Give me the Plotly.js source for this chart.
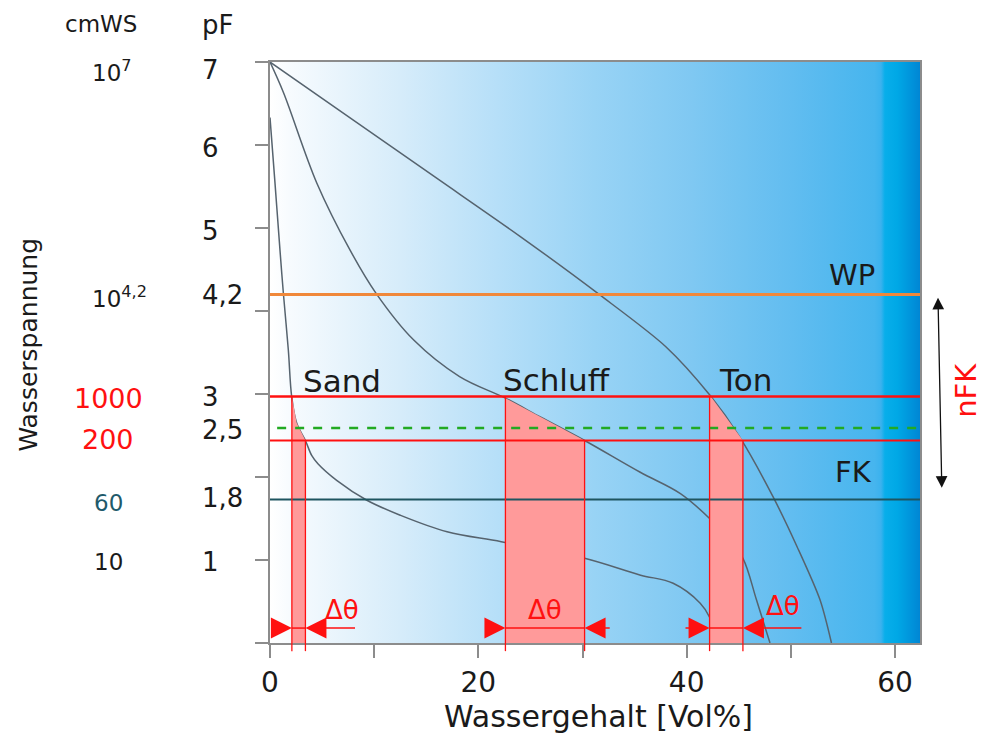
<!DOCTYPE html>
<html>
<head>
<meta charset="utf-8">
<script src="https://cdn.plot.ly/plotly-3.0.1.min.js"></script>
<style>html,body{margin:0;padding:0;background:#fff;}</style>
</head>
<body>
<div id="chart" style="width:985px;height:738px;"></div>
<script>
// ---- data (Vol% vs pF) ----
const sandX   = [0, 0.48, 0.96, 1.28, 1.76, 2.08, 2.56, 3.4, 4.0, 4.6, 6.4, 9.3, 12.5, 17.0, 22.2, 30.2, 35.5, 38.7, 41.3, 42.2, 42.6];
const sandPF  = [6.33, 5.54, 4.73, 4.22, 3.53, 2.97, 2.65, 2.44, 2.26, 2.16, 1.96, 1.72, 1.54, 1.34, 1.22, 1.02, 0.82, 0.72, 0.48, 0.31, 0.1];
const schluffX  = [0, 1.3, 4.5, 7.7, 10.2, 13.8, 18.2, 22.6, 26.0, 30.2, 35.5, 39.4, 42.2, 44.0, 45.4, 46.7, 48.0];
const schluffPF = [7, 6.63, 5.54, 4.73, 4.21, 3.65, 3.21, 2.95, 2.72, 2.44, 2.06, 1.80, 1.50, 1.25, 1.02, 0.52, 0];
const tonX  = [0, 8, 16, 24, 31.6, 38.0, 42.2, 45.1, 48.3, 50.6, 52.8, 53.9];
const tonPF = [7, 6.3, 5.6, 4.9, 4.2, 3.57, 2.99, 2.48, 1.76, 1.16, 0.52, 0];

// shaded usable-water areas (between pF 3 and pF 2.44)
const sandFillX  = [2.1, 2.1, 2.56, 3.4, 3.4];
const sandFillPF = [0, 2.97, 2.65, 2.44, 0];
const schluffFillX  = [22.6, 22.6, 30.2, 30.2];
const schluffFillPF = [0, 2.95, 2.44, 0];
const tonFillX  = [42.2, 42.2, 45.4, 45.4];
const tonFillPF = [0, 2.99, 2.44, 0];

const soilNames = ['Sand', 'Schluff', 'Ton'];
const boxLeftX  = [2.1, 22.6, 42.2];
const boxRightX = [3.4, 30.2, 45.4];
const arrowLeftTail  = [0, 20.6, 39.6];
const arrowRightTail = [8.45, 32.9, 51.3];
const arrowPF = 0.18;

// reference levels (pF)
const levelWP = 4.2;
const levelUpper = 2.97;   // 1000 cmWS
const levelMid = 2.59;     // dashed
const levelLower = 2.44;   // 200 cmWS
const levelFK = 1.73;

// tick labels
const xTickVals = [0, 10, 20, 30, 40, 50, 60];
const xTickText = ['0', '', '20', '', '40', '', '60'];
const yTickVals = [0, 1, 2, 3, 4, 5, 6, 7];
const pfLabels = ['7', '6', '5', '4,2', '3', '2,5', '1,8', '1'];
const pfLabelPos = [6.9, 5.96, 4.96, 4.19, 2.96, 2.57, 1.75, 0.98];
const cmwsLabels = ['10<sup>7</sup>', '10<sup>4,2</sup>', '1000', '200', '60', '10'];
const cmwsLabelPos = [6.89, 4.17, 2.94, 2.45, 1.69, 0.98];
const cmwsColors = ['#1a1a1a', '#1a1a1a', '#ff1010', '#ff1010', '#1f5a6b', '#1a1a1a'];

const FONT = '"DejaVu Sans", sans-serif';
const RED = '#ff1010';
const CURVE = '#56636e';
const FILL = '#ff9a9a';
const X_MAX = 62.4, Y_MAX = 7;

// background gradient image
const stops = [
  [0, '#ffffff'], [0.03, '#f7fbfe'], [0.2, '#d6ecfa'], [0.35, '#b6dff8'], [0.5, '#98d3f5'],
  [0.65, '#7fc8f2'], [0.8, '#62bdf0'], [0.93, '#46b5ee'], [0.94, '#3bb2ee'], [0.946, '#08aeea'],
  [0.965, '#00a8e6'], [1, '#0086d4']
];
let svg = "<svg xmlns='http://www.w3.org/2000/svg' width='200' height='20' viewBox='0 0 200 20' preserveAspectRatio='none'><defs><linearGradient id='g' x1='0' x2='1' y1='0' y2='0'>";
stops.forEach(s => { svg += "<stop offset='" + s[0] + "' stop-color='" + s[1] + "'/>"; });
svg += "</linearGradient></defs><rect x='0' y='0' width='200' height='20' fill='url(#g)'/></svg>";
const bgSrc = 'data:image/svg+xml;charset=utf-8,' + encodeURIComponent(svg);

const traces = [
  {x: sandX, y: sandPF, mode: 'lines', line: {color: CURVE, width: 1.5, shape: 'spline', smoothing: 1}, hoverinfo: 'skip'},
  {x: schluffX, y: schluffPF, mode: 'lines', line: {color: CURVE, width: 1.5, shape: 'spline', smoothing: 1}, hoverinfo: 'skip'},
  {x: tonX, y: tonPF, mode: 'lines', line: {color: CURVE, width: 1.5, shape: 'spline', smoothing: 0.8}, hoverinfo: 'skip'},
  {x: sandFillX, y: sandFillPF, mode: 'lines', fill: 'toself', fillcolor: FILL, line: {width: 0}, hoverinfo: 'skip'},
  {x: schluffFillX, y: schluffFillPF, mode: 'lines', fill: 'toself', fillcolor: FILL, line: {width: 0}, hoverinfo: 'skip'},
  {x: tonFillX, y: tonFillPF, mode: 'lines', fill: 'toself', fillcolor: FILL, line: {width: 0}, hoverinfo: 'skip'}
];

const shapes = [
  {type: 'line', xref: 'paper', x0: 0, x1: 1, yref: 'y', y0: levelWP, y1: levelWP, line: {color: '#f0883a', width: 3}, layer: 'above'},
  {type: 'line', xref: 'paper', x0: 0.011, x1: 1, yref: 'y', y0: levelMid, y1: levelMid, line: {color: '#22aa22', width: 2.5, dash: 'dash'}, layer: 'above'},
  {type: 'line', xref: 'paper', x0: 0, x1: 1, yref: 'y', y0: levelUpper, y1: levelUpper, line: {color: RED, width: 2.5}, layer: 'above'},
  {type: 'line', xref: 'paper', x0: 0, x1: 1, yref: 'y', y0: levelLower, y1: levelLower, line: {color: RED, width: 2}, layer: 'above'},
  {type: 'line', xref: 'paper', x0: 0, x1: 1, yref: 'y', y0: levelFK, y1: levelFK, line: {color: '#1e5560', width: 2}, layer: 'above'}
];
for (let i = 0; i < soilNames.length; i++) {
  shapes.push({type: 'line', xref: 'x', x0: boxLeftX[i], x1: boxLeftX[i], yref: 'paper', y0: -0.014, y1: levelUpper / Y_MAX, line: {color: RED, width: 1.3}, layer: 'above'});
  shapes.push({type: 'line', xref: 'x', x0: boxRightX[i], x1: boxRightX[i], yref: 'paper', y0: -0.014, y1: levelLower / Y_MAX, line: {color: RED, width: 1.3}, layer: 'above'});
  // Δθ dimension line across the box
  shapes.push({type: 'line', xref: 'x', x0: boxLeftX[i], x1: boxRightX[i], yref: 'y', y0: arrowPF, y1: arrowPF, line: {color: RED, width: 1.5}, layer: 'above'});
}

const ann = [];
function txt(text, x, y, opt) {
  ann.push(Object.assign({text: text, x: x, y: y, xref: 'x', yref: 'y', showarrow: false,
    font: {family: FONT, size: 29, color: '#1a1a1a'}, xanchor: 'center', yanchor: 'middle'}, opt || {}));
}
// soil labels
const soilLabelX = [6.9, 27.5, 45.6];
const soilLabelY = [3.16, 3.17, 3.17];
soilNames.forEach((n, i) => txt(n, soilLabelX[i], soilLabelY[i], {font: {family: FONT, size: 31, color: '#1a1a1a'}}));
txt('WP', 55.9, 4.43, {font: {family: FONT, size: 29, color: '#1a1a1a'}});
txt('FK', 56.0, 2.06, {font: {family: FONT, size: 29, color: '#1a1a1a'}});
// delta theta labels
const dThetaX = [6.9, 26.4, 49.2];
const dThetaY = [0.40, 0.40, 0.45];
dThetaX.forEach((x, i) => txt('Δθ', x, dThetaY[i], {font: {family: FONT, size: 26, color: RED}}));
// bottom arrows
for (let i = 0; i < soilNames.length; i++) {
  ann.push({x: boxLeftX[i], y: arrowPF, xref: 'x', yref: 'y', ax: arrowLeftTail[i], ay: arrowPF, axref: 'x', ayref: 'y',
    text: ' ', showarrow: true, arrowhead: 2, arrowsize: 2.8, arrowwidth: 1.5, arrowcolor: RED, standoff: 0});
  ann.push({x: boxRightX[i], y: arrowPF, xref: 'x', yref: 'y', ax: arrowRightTail[i], ay: arrowPF, axref: 'x', ayref: 'y',
    text: ' ', showarrow: true, arrowhead: 2, arrowsize: 2.8, arrowwidth: 1.5, arrowcolor: RED, standoff: 0});
}
// nFK arrow + label
ann.push({x: 1.0277, y: 4.16, xref: 'paper', yref: 'y', ax: 4, ay: levelFK + 0.02, axref: 'pixel', ayref: 'y',
  text: ' ', showarrow: true, arrowhead: 2, arrowside: 'end+start', arrowsize: 1.8, arrowwidth: 1.3, arrowcolor: '#111', standoff: 0, startstandoff: 0});
ann.push({text: 'nFK', x: 1.071, y: 3.04, xref: 'paper', yref: 'y', showarrow: false, textangle: -90,
  font: {family: FONT, size: 29, color: RED}, xanchor: 'center', yanchor: 'middle'});
// left label columns
ann.push({text: 'cmWS', x: -0.26, y: 1.066, xref: 'paper', yref: 'paper', showarrow: false, font: {family: FONT, size: 23, color: '#1a1a1a'}, xanchor: 'center', yanchor: 'middle'});
ann.push({text: 'pF', x: -0.107, y: 1.064, xref: 'paper', yref: 'paper', showarrow: false, font: {family: FONT, size: 26, color: '#1a1a1a'}, xanchor: 'left', yanchor: 'middle'});
pfLabels.forEach((t, i) => ann.push({text: t, x: -0.107, y: pfLabelPos[i], xref: 'paper', yref: 'y', showarrow: false,
  font: {family: FONT, size: 26, color: '#1a1a1a'}, xanchor: 'left', yanchor: 'middle'}));
cmwsLabels.forEach((t, i) => {
  const big = (t === '1000' || t === '200');
  const sup = t.indexOf('<sup>') >= 0;
  ann.push({text: t, x: sup ? -0.277 : -0.249, y: cmwsLabelPos[i], xref: 'paper', yref: 'y', showarrow: false,
    font: {family: FONT, size: big ? 27 : 23, color: cmwsColors[i]}, xanchor: sup ? 'left' : 'center', yanchor: 'middle'});
});
// axis titles
ann.push({text: 'Wasserspannung', x: -0.372, y: 0.514, xref: 'paper', yref: 'paper', showarrow: false, textangle: -90,
  font: {family: FONT, size: 25, color: '#1a1a1a'}, xanchor: 'center', yanchor: 'middle'});
ann.push({text: 'Wassergehalt [Vol%]', x: 0.506, y: -0.127, xref: 'paper', yref: 'paper', showarrow: false,
  font: {family: FONT, size: 30, color: '#1a1a1a'}, xanchor: 'center', yanchor: 'middle'});

const axisCommon = {showgrid: false, zeroline: false, showline: true, linecolor: '#8c8c8c', linewidth: 2, mirror: true,
  ticks: 'outside', ticklen: 13, tickwidth: 2, tickcolor: '#8c8c8c', fixedrange: true};

const layout = {
  width: 985, height: 738,
  margin: {l: 270, r: 65, t: 62, b: 95},
  paper_bgcolor: '#ffffff', plot_bgcolor: '#ffffff',
  showlegend: false,
  xaxis: Object.assign({}, axisCommon, {range: [0, X_MAX], tickvals: xTickVals, ticktext: xTickText,
    tickfont: {family: FONT, size: 28, color: '#1a1a1a'}}),
  yaxis: Object.assign({}, axisCommon, {range: [0, Y_MAX], tickvals: yTickVals, showticklabels: false}),
  images: [{source: bgSrc, xref: 'paper', yref: 'paper', x: 0, y: 1, sizex: 1, sizey: 1,
    sizing: 'stretch', xanchor: 'left', yanchor: 'top', layer: 'below'}],
  shapes: shapes,
  annotations: ann
};

Plotly.newPlot('chart', traces, layout, {displayModeBar: false, staticPlot: true});
</script>
</body>
</html>
